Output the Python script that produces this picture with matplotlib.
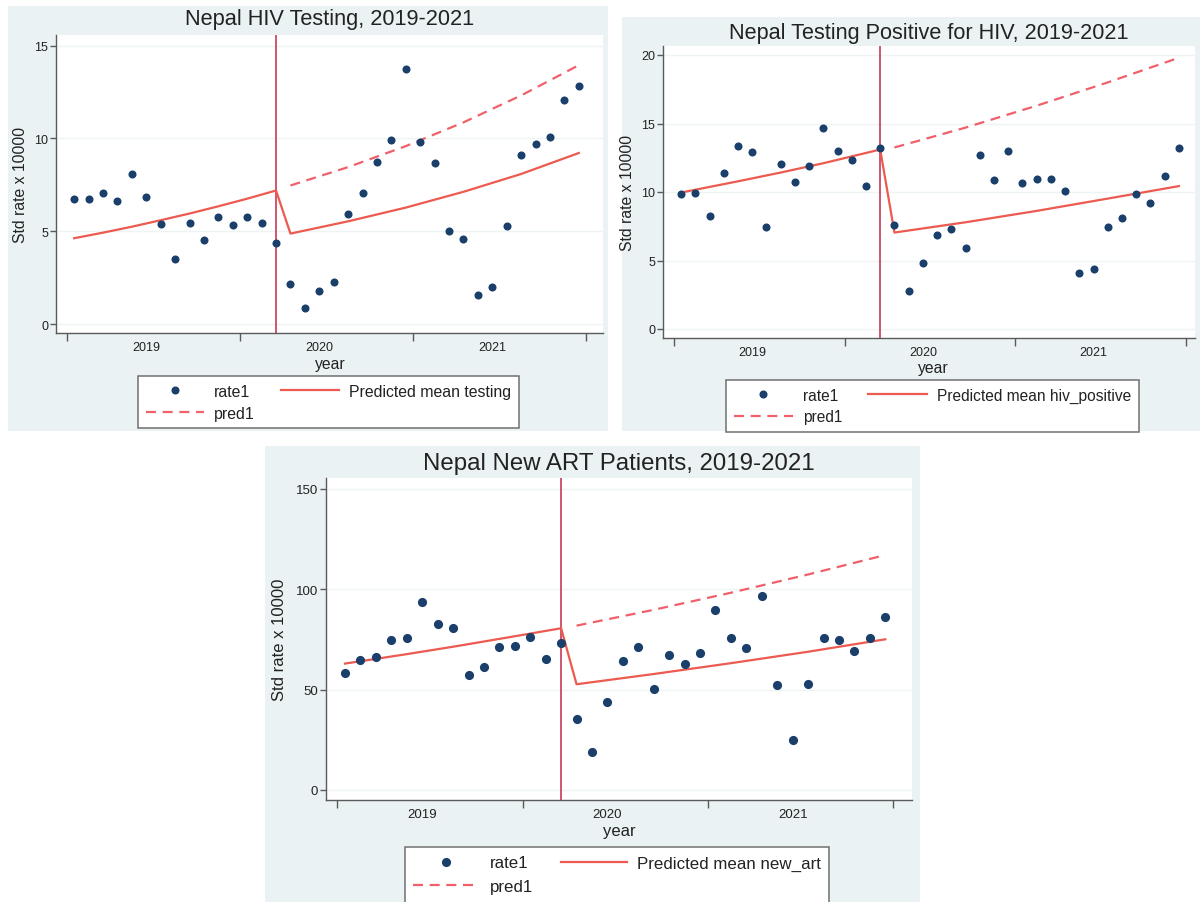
import matplotlib
matplotlib.use("Agg")
import matplotlib.pyplot as plt
from matplotlib.patches import Rectangle

plt.rcParams['font.family'] = ['Liberation Sans', 'DejaVu Sans']

W, H = 1200, 903

# ---- shared time axis (monthly, 2019-2021) ----
months = list(range(36))
year_ticks = [-0.5, 11.5, 23.5, 35.5]
year_label_pos = [5, 17, 29]
year_labels = ['2019', '2020', '2021']
interruption_month = 14

# ---- Nepal HIV testing ----
testing_rate = [6.73, 6.73, 7.03, 6.62, 8.09, 6.85, 5.40, 3.49, 5.43, 4.51, 5.74, 5.32,
                5.74, 5.43, 4.37, 2.16, 0.88, 1.76, 2.25, 5.92, 7.07, 8.72, 9.89, 13.72,
                9.80, 8.69, 5.00, 4.57, 1.55, 2.00, 5.29, 9.12, 9.71, 10.05, 12.09, 12.84]
testing_fit_month = [0, 2, 4, 6, 8, 10, 12, 14, 15, 19, 23, 27, 31, 35]
testing_fit = [4.62, 4.92, 5.24, 5.59, 5.95, 6.34, 6.75, 7.19,
               4.87, 5.53, 6.27, 7.12, 8.08, 9.21]
testing_pred_month = [15, 19, 23, 27, 31, 35]
testing_pred = [7.46, 8.45, 9.58, 10.86, 12.31, 13.94]
testing_yticks = [0, 5, 10, 15]

# ---- Nepal testing positive for HIV ----
positive_rate = [9.84, 9.96, 8.26, 11.38, 13.33, 12.91, 7.41, 12.08, 10.74, 11.89, 14.64, 12.98,
                 12.35, 10.45, 13.18, 7.58, 2.75, 4.82, 6.87, 7.31, 5.92, 12.72, 10.84, 13.01,
                 10.67, 10.94, 10.94, 10.09, 4.12, 4.36, 7.48, 8.11, 9.84, 9.23, 11.18, 13.23]
positive_fit_month = [0, 4, 7, 10, 14, 15, 20, 25, 30, 35]
positive_fit = [9.96, 10.78, 11.42, 12.10, 13.10, 7.04, 7.79, 8.62, 9.52, 10.43]
positive_pred_month = [15, 20, 25, 30, 35]
positive_pred = [13.25, 14.70, 16.30, 18.00, 19.80]
positive_yticks = [0, 5, 10, 15, 20]

# ---- Nepal new ART patients ----
art_rate = [58.5, 64.8, 66.4, 74.9, 75.9, 93.7, 82.6, 80.6, 57.1, 61.5, 71.1, 71.9,
            76.2, 65.1, 73.3, 35.5, 18.9, 44.0, 64.3, 71.1, 50.2, 67.1, 62.8, 68.1,
            89.7, 75.6, 70.9, 96.7, 52.3, 25.1, 53.0, 75.7, 74.9, 69.1, 75.7, 86.4]
art_fit_month = [0, 4, 7, 10, 14, 15, 20, 25, 30, 35]
art_fit = [63.0, 67.7, 71.4, 75.3, 80.6, 52.7, 57.8, 63.2, 68.9, 75.1]
art_pred_month = [15, 20, 25, 30, 35]
art_pred = [81.9, 89.8, 98.3, 107.4, 117.1]
art_yticks = [0, 50, 100, 150]

# ---- colours ----
BG = '#EAF2F3'
NAVY = '#1a3f6b'
FIT_RED = '#EC5A50'
PRED_RED = '#F0606A'
VLINE = '#C73A55'
AXIS = '#5a5a5a'
GRID = '#EEF3F4'
TEXT = '#222222'


def fx(x):
    return x / W


def fy(y):
    return 1 - y / H


def draw_panel(fig, lay, rate, fit_m, fit_v, pred_m, pred_v, yticks, title, fit_label):
    # graph region background
    bx0, by0, bx1, by1 = lay['region']
    fig.add_artist(Rectangle((fx(bx0), fy(by1)), (bx1 - bx0) / W, (by1 - by0) / H,
                             transform=fig.transFigure, facecolor=BG, edgecolor='none',
                             zorder=-5))
    # plot region
    px0, py0, px1, py1 = lay['plot']
    ax = fig.add_axes([fx(px0), fy(py1), (px1 - px0) / W, (py1 - py0) / H])
    ax.set_facecolor('white')

    # data-to-pixel mapping from tick positions
    tx0, tx1 = lay['xtick_px']
    sx = (tx1 - tx0) / (year_ticks[-1] - year_ticks[0])
    ax.set_xlim(year_ticks[0] - (tx0 - px0) / sx, year_ticks[-1] + (px1 - tx1) / sx)
    ty0, ty1 = lay['ytick_px']
    sy = (ty0 - ty1) / (yticks[-1] - yticks[0])
    ax.set_ylim(yticks[0] - (py1 - ty0) / sy, yticks[-1] + (ty1 - py0) / sy)

    for sp in ['top', 'right']:
        ax.spines[sp].set_visible(False)
    for sp in ['left', 'bottom']:
        ax.spines[sp].set_color(AXIS)
        ax.spines[sp].set_linewidth(1.0)

    for v in yticks:
        ax.axhline(v, color=GRID, lw=1.0, zorder=0.5)

    ax.set_yticks(yticks)
    ax.set_yticklabels([str(v) for v in yticks])
    ax.tick_params(axis='y', which='major', length=4, width=1.0, color=AXIS,
                   labelsize=lay['tick_fs'], labelcolor=TEXT, pad=1.5)
    ax.set_xticks(year_ticks)
    ax.set_xticklabels([''] * len(year_ticks))
    ax.tick_params(axis='x', which='major', length=5.5, width=1.0, color=AXIS)
    ax.set_xticks(year_label_pos, minor=True)
    ax.set_xticklabels(year_labels, minor=True)
    ax.tick_params(axis='x', which='minor', length=0, labelsize=lay['tick_fs'],
                   labelcolor=TEXT, pad=lay['xtick_pad'])

    ax.axvline(interruption_month, color=VLINE, lw=1.2, zorder=2)
    h_rate, = ax.plot(months, rate, 'o', ls='none', color=NAVY, ms=lay['ms'],
                      markeredgewidth=0, zorder=4)
    h_fit, = ax.plot(fit_m, fit_v, color=FIT_RED, lw=1.6, zorder=3)
    h_pred, = ax.plot(pred_m, pred_v, color=PRED_RED, lw=1.6, ls=(0, (4.5, 3)), zorder=3)

    # titles and axis labels
    fig.text(fx((px0 + px1) / 2), fy(lay['title_y']), title, ha='center', va='center',
             fontsize=lay['title_fs'], color=TEXT)
    ax.set_ylabel('Std rate x 10000', fontsize=lay['label_fs'], color=TEXT)
    ax.yaxis.set_label_coords((lay['ylab_x'] - px0) / (px1 - px0),
                              (py1 - lay['ylab_y']) / (py1 - py0))
    ax.set_xlabel('year', fontsize=lay['label_fs'], color=TEXT)
    ax.xaxis.set_label_coords((lay['xlab_x'] - px0) / (px1 - px0),
                              (py1 - lay['xlab_y']) / (py1 - py0))
    ax.xaxis.label.set_va('center')
    ax.yaxis.label.set_va('center')

    fs = lay['leg_fs'] * 100 / 72
    leg = ax.legend([h_rate, h_pred, h_fit], ['rate1', 'pred1', fit_label],
                    ncol=2, loc='upper left',
                    bbox_to_anchor=(fx(lay['leg_xy'][0]), fy(lay['leg_xy'][1])),
                    bbox_transform=fig.transFigure, borderaxespad=0,
                    fontsize=lay['leg_fs'], frameon=True, fancybox=False,
                    handlelength=lay['handle_px'] / fs, handletextpad=10 / fs,
                    columnspacing=lay['colsp_px'] / fs, borderpad=0.5,
                    labelspacing=lay['leg_ls'], numpoints=1)
    frame = leg.get_frame()
    frame.set_edgecolor('#707070')
    frame.set_linewidth(1.1)
    frame.set_facecolor('white')
    frame.set_alpha(1)
    for t in leg.get_texts():
        t.set_color(TEXT)
    return ax


fig = plt.figure(figsize=(W / 100, H / 100), dpi=100)
fig.patch.set_facecolor('white')

layout_testing = dict(region=(8, 7, 608, 432), plot=(56, 36, 603, 334),
                      xtick_px=(67, 586), ytick_px=(325, 46.5),
                      title_y=19, title_fs=15.7, tick_fs=9, label_fs=11.3,
                      ylab_x=20, ylab_y=185, xlab_x=330, xlab_y=364, xtick_pad=5.5,
                      ms=5.8, leg_fs=11.4, leg_xy=(138, 377), handle_px=58, colsp_px=26,
                      leg_ls=0.42)

layout_positive = dict(region=(622, 18, 1200, 432), plot=(663, 47, 1195, 339),
                       xtick_px=(674, 1186), ytick_px=(330, 56),
                       title_y=33, title_fs=15.6, tick_fs=9, label_fs=11.3,
                       ylab_x=627, ylab_y=193, xlab_x=933, xlab_y=368, xtick_pad=5.5,
                       ms=5.8, leg_fs=11.2, leg_xy=(726, 381), handle_px=59, colsp_px=26,
                       leg_ls=0.4)

layout_art = dict(region=(265, 447, 920, 903), plot=(326, 479, 912, 801),
                  xtick_px=(337.3, 893), ytick_px=(791, 490),
                  title_y=464, title_fs=17.3, tick_fs=9.5, label_fs=12,
                  ylab_x=279, ylab_y=640, xlab_x=619, xlab_y=832, xtick_pad=5.5,
                  ms=6.6, leg_fs=12.2, leg_xy=(405, 848), handle_px=66, colsp_px=28,
                  leg_ls=0.52)

draw_panel(fig, layout_testing, testing_rate, testing_fit_month, testing_fit,
           testing_pred_month, testing_pred, testing_yticks,
           'Nepal HIV Testing, 2019-2021', 'Predicted mean testing')
draw_panel(fig, layout_positive, positive_rate, positive_fit_month, positive_fit,
           positive_pred_month, positive_pred, positive_yticks,
           'Nepal Testing Positive for HIV, 2019-2021', 'Predicted mean hiv_positive')
draw_panel(fig, layout_art, art_rate, art_fit_month, art_fit,
           art_pred_month, art_pred, art_yticks,
           'Nepal New ART Patients, 2019-2021', 'Predicted mean new_art')

fig.savefig('out.png', dpi=100, facecolor='white')
